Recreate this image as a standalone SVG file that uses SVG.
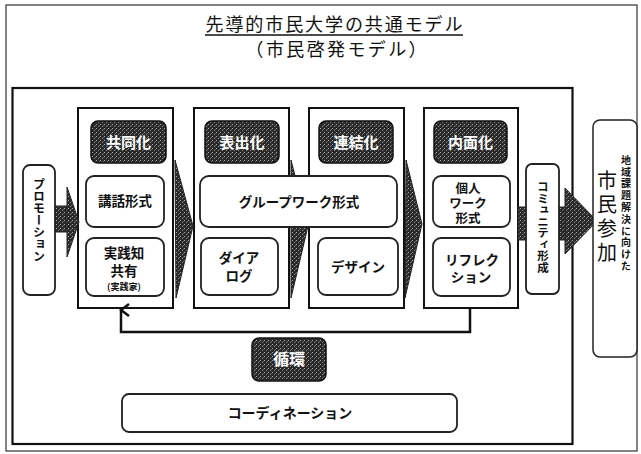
<svg xmlns="http://www.w3.org/2000/svg" width="641" height="454" viewBox="0 0 641 454">
<defs>
<pattern id="ht" width="4" height="4" patternUnits="userSpaceOnUse">
<rect width="4" height="4" fill="#2a2a2a"/>
<rect x="0" y="0" width="1" height="1" fill="#aaa"/>
<rect x="2" y="2" width="1" height="1" fill="#888"/>
<rect x="3" y="1" width="1" height="1" fill="#666"/>
</pattern>
<marker id="openArrow" viewBox="0 0 14 12" refX="7" refY="2" markerWidth="14" markerHeight="12" markerUnits="userSpaceOnUse" orient="auto-start-reverse">
<path d="M1,10 L7,2 L13,10" fill="none" stroke="#111" stroke-width="2.5"/>
</marker>
</defs>
<style>
text{font-family:"Noto Sans CJK JP","Noto Sans CJK SC",sans-serif;fill:#111}
.ttl{font-size:18px}
.col{fill:#fff;stroke:#111;stroke-width:2}
.hdr{fill:url(#ht);stroke:#111;stroke-width:1.5}
.hdrt{font-size:15px;font-weight:bold;fill:#fff;text-anchor:middle}
.box{fill:#fff;stroke:#222;stroke-width:1.8}
.bt{font-size:13.5px;font-weight:bold;text-anchor:middle}
.dark{fill:url(#ht);stroke:#222;stroke-width:1}
.v{writing-mode:vertical-rl;text-anchor:middle;font-weight:bold}
.line{fill:none;stroke:#111;stroke-width:2.5}
</style>
<rect x="6" y="5" width="631" height="446" fill="#fff" stroke="#333" stroke-width="1.2"/>
<g id="title">
<text class="ttl" x="334" y="31" text-anchor="middle" textLength="257" lengthAdjust="spacing">先導的市民大学の共通モデル</text>
<line x1="205" y1="35" x2="463" y2="35" stroke="#111" stroke-width="1.3"/>
<text class="ttl" x="336" y="56" text-anchor="middle" textLength="181" lengthAdjust="spacing">（市民啓発モデル）</text>
</g>
<rect id="frame" x="12.5" y="88" width="560" height="356" fill="none" stroke="#111" stroke-width="2.2"/>
<g id="col1">
<rect class="col" x="78" y="108" width="95" height="200"/>
<rect class="hdr" x="91" y="121" width="75" height="42" rx="7"/>
<text class="hdrt" x="128.5" y="147.5">共同化</text>
<rect class="box" x="86" y="176" width="78" height="51" rx="8"/>
<text class="bt" x="125" y="206">講話形式</text>
<rect class="box" x="86" y="238" width="78" height="58" rx="8"/>
<text class="bt" x="124" y="258">実践知<tspan x="124" dy="18">共有</tspan><tspan x="124" dy="14" style="font-size:9px">(実践家)</tspan></text>
</g>
<g id="col2">
<rect class="col" x="194" y="108" width="95" height="200"/>
<rect class="hdr" x="205" y="121" width="74" height="42" rx="7"/>
<text class="hdrt" x="242" y="147.5">表出化</text>
<rect class="box" x="201" y="238" width="77" height="57" rx="8"/>
<text class="bt" x="239" y="263">ダイア<tspan x="239" dy="18">ログ</tspan></text>
</g>
<g id="col3">
<rect class="col" x="309" y="108" width="95" height="200"/>
<rect class="hdr" x="319" y="121" width="74" height="42" rx="7"/>
<text class="hdrt" x="356" y="147.5">連結化</text>
<rect class="box" x="318" y="238" width="80" height="57" rx="8"/>
<text class="bt" x="358" y="272">デザイン</text>
</g>
<g id="col4">
<rect class="col" x="424" y="108" width="94" height="200"/>
<rect class="hdr" x="434" y="121" width="73" height="42" rx="7"/>
<text class="hdrt" x="470.5" y="147.5">内面化</text>
<rect class="box" x="433" y="176" width="77" height="51" rx="8"/>
<text class="bt" x="468" y="193" style="font-size:12.5px">個人<tspan x="468" dy="15">ワーク</tspan><tspan x="468" dy="15">形式</tspan></text>
<rect class="box" x="433" y="238" width="77" height="58" rx="8"/>
<text class="bt" x="472" y="265">リフレク<tspan x="471" dy="17">ション</tspan></text>
</g>
<g id="connectors">
<rect class="dark" x="55" y="206" width="14" height="26"/>
<polygon class="dark" points="67,187 79,222 67,257"/>
<polygon class="dark" points="175,160 193,226 176,298"/>
<polygon class="dark" points="291,160 308,226 291,298"/>
<polygon class="dark" points="406,160 422,224 405,298"/>
<rect class="dark" x="518" y="207" width="9" height="33"/>
<rect class="dark" x="559" y="207" width="8" height="33"/>
<polygon class="dark" points="565,188 597,221 565,254"/>
<polyline class="line" points="470,308 470,332 121,332 121,310" marker-end="url(#openArrow)"/>
</g>
<g id="groupwork">
<rect class="box" x="200" y="176" width="197" height="51" rx="9"/>
<text class="bt" x="299" y="207">グループワーク形式</text>
</g>
<g id="promotion">
<rect class="box" x="23" y="165" width="32" height="130" rx="7"/>
<text class="v" x="39" y="220" style="font-size:12px">プロモーション</text>
</g>
<g id="community">
<rect class="box" x="526" y="164" width="33" height="130" rx="6"/>
<text class="v" x="543" y="227" style="font-size:11.5px">コミュニティ形成</text>
</g>
<g id="citizen">
<rect class="box" x="593" y="120" width="44" height="237" rx="7" style="stroke-width:1.5"/>
<text class="v" x="607" y="218" style="font-size:20px;font-weight:normal;letter-spacing:4px">市民参加</text>
<text class="v" x="626" y="214" style="font-size:10px;letter-spacing:1.8px">地域課題解決に向けた</text>
</g>
<g id="cycle">
<rect class="hdr" x="252" y="338" width="74" height="43" rx="7"/>
<text class="hdrt" x="289" y="365" style="font-size:16px">循環</text>
</g>
<g id="coordination">
<rect class="box" x="122" y="394" width="335" height="38" rx="7"/>
<text class="bt" x="290" y="418" style="font-size:14px">コーディネーション</text>
</g>
</svg>
